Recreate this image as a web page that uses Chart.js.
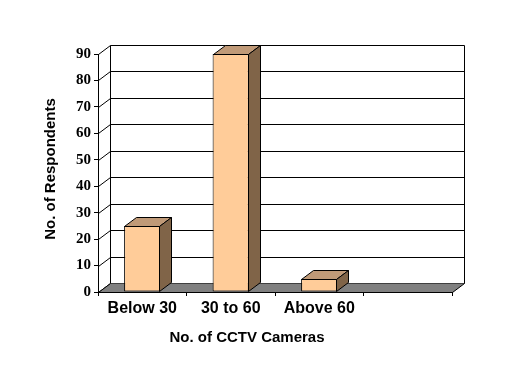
<!DOCTYPE html>
<html>
<head>
<meta charset="utf-8">
<script src="https://cdn.jsdelivr.net/npm/chart.js@4/dist/chart.umd.min.js"></script>
<style>
  html, body { margin: 0; padding: 0; background: #fff; }
  canvas { display: block; }
</style>
</head>
<body>
<canvas id="c" width="516" height="381"></canvas>
<script>
// ---- data ----
const categories = ["Below 30", "30 to 60", "Above 60", ""];
const respondents = [25, 90, 5, null];
const yTickMax = 90;
const yTickStep = 10;
const xTitle = "No. of CCTV Cameras";
const yTitle = "No. of Respondents";

// ---- styling ----
const DEPTH = { x: 12, y: 9 };
const FRONT = '#FFCC99';
const TOP = '#C09A78';
const SIDE = '#806448';
const FLOOR = '#808080';

function poly(ctx, pts, fill) {
  ctx.beginPath();
  ctx.moveTo(pts[0][0], pts[0][1]);
  for (let i = 1; i < pts.length; i++) ctx.lineTo(pts[i][0], pts[i][1]);
  ctx.closePath();
  if (fill) { ctx.fillStyle = fill; ctx.fill(); }
  ctx.stroke();
}
function line(ctx, x1, y1, x2, y2) {
  ctx.beginPath(); ctx.moveTo(x1, y1); ctx.lineTo(x2, y2); ctx.stroke();
}

const threeD = {
  id: 'threeD',
  beforeDraw(chart) {
    const { ctx, chartArea: a, scales: { y } } = chart;
    ctx.save();
    ctx.fillStyle = '#fff';
    ctx.fillRect(0, 0, chart.width, chart.height);
    ctx.strokeStyle = '#000';
    ctx.lineWidth = 1;
    const L = Math.round(a.left) + 0.5;
    const R = Math.round(a.right) + 0.5;
    const BL = L + DEPTH.x, BR = R + DEPTH.x;
    const top = Math.round(y.getPixelForValue(y.max)) + 0.5;
    const base = Math.round(y.getPixelForValue(0)) + 0.5;
    // back wall gridlines and left wall diagonals
    y.ticks.forEach(t => {
      const fy = Math.round(y.getPixelForValue(t.value)) + 0.5;
      const by = fy - DEPTH.y;
      line(ctx, BL, by, BR, by);
      line(ctx, L, fy, BL, by);
    });
    // back wall edges
    line(ctx, BL, top - DEPTH.y, BL, base - DEPTH.y);
    line(ctx, BR, top - DEPTH.y, BR, base - DEPTH.y);
    // floor
    ctx.beginPath();
    ctx.moveTo(L, base);
    ctx.lineTo(R, base);
    ctx.lineTo(BR, base - DEPTH.y);
    ctx.lineTo(BL, base - DEPTH.y);
    ctx.closePath();
    ctx.fillStyle = FLOOR;
    ctx.fill();
    line(ctx, R, base, BR, base - DEPTH.y);
    line(ctx, L, base, BL, base - DEPTH.y);

    // axis titles
    ctx.fillStyle = '#000';
    ctx.font = 'bold 15px "Liberation Sans", Arial, sans-serif';
    ctx.textAlign = 'center';
    ctx.textBaseline = 'alphabetic';
    ctx.fillText(xTitle, 247, 342);
    ctx.translate(55, 169);
    ctx.rotate(-Math.PI / 2);
    ctx.fillText(yTitle, 0, 0);
    ctx.restore();
  },
  afterDatasetsDraw(chart) {
    const { ctx } = chart;
    const meta = chart.getDatasetMeta(0);
    ctx.save();
    ctx.strokeStyle = '#000';
    ctx.lineWidth = 1;
    meta.data.forEach((bar, i) => {
      if (respondents[i] == null) return;
      const l = Math.round(bar.x - bar.width / 2) + 0.5;
      const r = Math.round(bar.x + bar.width / 2) - 0.5;
      const t = Math.round(bar.y) + 0.5;
      const b = Math.round(bar.base) - 0.5;
      poly(ctx, [[l, t], [r, t], [r + DEPTH.x, t - DEPTH.y], [l + DEPTH.x, t - DEPTH.y]], TOP);
      poly(ctx, [[r, t], [r + DEPTH.x, t - DEPTH.y], [r + DEPTH.x, b - DEPTH.y], [r, b]], SIDE);
    });
    ctx.restore();
  }
};

new Chart(document.getElementById('c'), {
  type: 'bar',
  data: {
    labels: categories,
    datasets: [{
      data: respondents,
      backgroundColor: FRONT,
      borderColor: '#000',
      borderWidth: 1,
      borderSkipped: false,
      barPercentage: 0.41,
      categoryPercentage: 1
    }]
  },
  options: {
    responsive: false,
    devicePixelRatio: 1,
    animation: false,
    layout: { padding: { left: 0, top: 54, right: 64, bottom: 0 } },
    plugins: { legend: { display: false }, tooltip: { enabled: false } },
    scales: {
      x: {
        offset: true,
        afterFit(s) { s.height = 89; },
        grid: { offset: true, drawOnChartArea: false, tickLength: 4, color: '#000' },
        border: { display: true, color: '#000' },
        ticks: {
          color: '#000',
          padding: 3,
          maxRotation: 0,
          font: { family: '"Liberation Sans", Arial, sans-serif', size: 16, weight: 'bold' }
        }
      },
      y: {
        min: 0,
        max: yTickMax,
        afterFit(s) { s.width = 98; },
        grid: { drawOnChartArea: false, tickLength: 4, color: '#000' },
        border: { display: true, color: '#000' },
        ticks: {
          stepSize: yTickStep,
          color: '#000',
          padding: 3,
          font: { family: '"Liberation Serif", "Times New Roman", serif', size: 15, weight: 'bold' }
        }
      }
    }
  },
  plugins: [threeD]
});
</script>
</body>
</html>
